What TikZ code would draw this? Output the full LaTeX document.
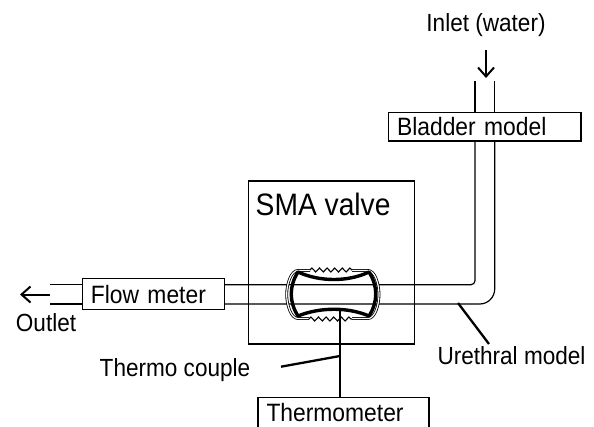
\documentclass[tikz,border=0pt]{standalone}
\usepackage{fontspec}
\setmainfont[FakeStretch=0.91]{Liberation Sans}
\usetikzlibrary{positioning, arrows.meta, decorations.pathmorphing}

\tikzset{
  label text/.style={inner sep=0pt, font=\fontsize{24.8}{26}\selectfont},
  box/.style={draw, line width=1.2pt, inner ysep=0pt, inner xsep=8.5pt, align=left,
    font=\fontsize{25.1}{26}\selectfont},
  pipe/.style={line width=1.2pt},
  wire/.style={line width=2.3pt},
  flow/.style={line width=2pt, -{Straight Barb[length=9pt,width=16pt]}},
  coil/.style={line width=1.1pt, decorate, decoration={zigzag, segment length=7.6pt, amplitude=2pt}}
}

\begin{document}
\begin{tikzpicture}[x=1pt, y=-1pt, node distance=10pt]
  \useasboundingbox (0,0) rectangle (594,426);
  \clip (0,0) rectangle (594,426);

  \node[draw, line width=1.2pt, minimum width=166pt, minimum height=163pt, inner sep=0pt]
                                                      (valve) at (331.6,262.5) {};
  \node[label text, font=\fontsize{31}{33}\selectfont, below right=12.5pt and 7.5pt of valve.north west]
                                                      (valve name) {SMA valve};
  \node[box, text width=125pt, minimum height=31pt, left=23pt of valve.west, yshift=-31.7pt]
                                                      (flow meter) {Flow meter};
  \node[box, text width=175.5pt, minimum height=28.5pt] (bladder) at (484.8,126.8) {Bladder model};
  \node[box, text width=154pt, minimum height=30pt]   (thermometer) at (343.5,412.7) {Thermometer};

  \node[label text]                                   (inlet) at (486,25) {Inlet (water)};
  \node[label text]                                   (outlet) at (46,323) {Outlet};
  \node[label text]                                   (thermo couple) at (175,370) {Thermo couple};
  \node[label text]                                   (urethral) at (511.5,356) {Urethral model};

  \coordinate (outlet start) at (50,294.5);
  \coordinate (outlet end)   at (20,294.5);
  \coordinate (inlet start)  at (486,50);
  \coordinate (inlet end)    at (486,78);
  \coordinate (left end)     at (50,0);
  \coordinate (top end)      at (0,81);
  \coordinate (inner turn)   at (475,284.7);
  \coordinate (outer turn)   at (494.7,304);
  \coordinate (stem)         at (340,356);
  \coordinate (leader)       at (489,344);

  % pipes
  \draw[pipe] (left end |- inner turn) -- (flow meter.west |- inner turn);
  \draw[pipe] (left end |- outer turn) -- (flow meter.west |- outer turn);
  \draw[pipe] (inner turn |- top end) -- (inner turn |- bladder.north);
  \draw[pipe] (outer turn |- top end) -- (outer turn |- bladder.north);
  \draw[pipe, rounded corners=4pt] (flow meter.east |- inner turn) -- (inner turn) -- (inner turn |- bladder.south);
  \draw[pipe, rounded corners=15pt] (flow meter.east |- outer turn) -- (outer turn) -- (outer turn |- bladder.south);

  \draw[flow] (outlet start) -- (outlet end);
  \draw[flow] (inlet start) -- (inlet end);

  % valve body
  \draw[line width=.8pt, double, double distance=1.2pt]
    (310,270.5) -- (298,270.5) .. controls (291,270.5) and (286.7,284) .. (286.7,294.5)
    .. controls (286.7,305) and (291,318.5) .. (298,318.5) -- (309,318.5);
  \draw[line width=.8pt, double, double distance=1.2pt]
    (352,270.5) -- (368,270.5) .. controls (375,270.5) and (379,284) .. (379,294.5)
    .. controls (379,305) and (375,318.5) .. (368,318.5) -- (352,318.5);
  \draw[line width=3.4pt, line join=round]
    (298,272) .. controls (320,282) and (348,282) .. (369,272)
    .. controls (378,286) and (378,302) .. (369,316)
    .. controls (348,307) and (320,307) .. (298,316)
    .. controls (289,302) and (289,286) .. (298,272) -- cycle;
  \draw[coil] (310,270) -- (352,270);
  \draw[coil] (309,319) -- (352,319);

  % sensor wires
  \draw[wire] (340,310) -- (stem) -- (340,397);
  \draw[wire] (stem) -- (281,366.7);
  \draw[wire] (458,303) -- (leader);
\end{tikzpicture}
\end{document}
